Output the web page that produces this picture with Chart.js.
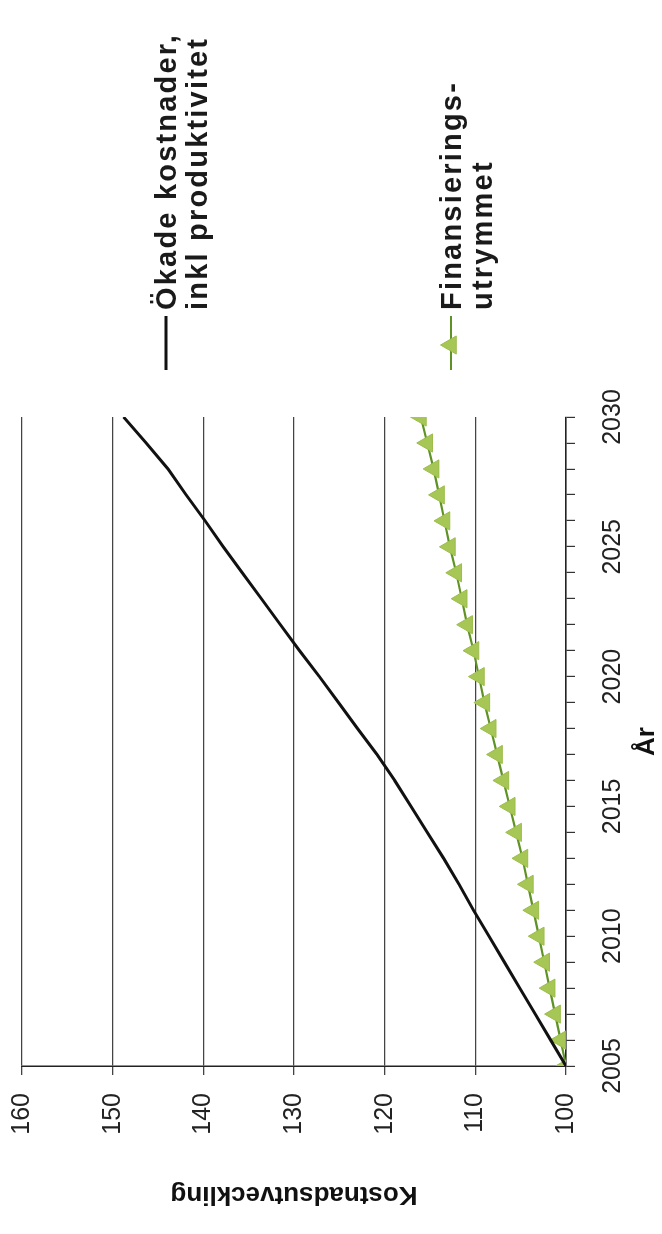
<!DOCTYPE html>
<html>
<head>
<meta charset="utf-8">
<script src="https://cdn.jsdelivr.net/npm/chart.js@4/dist/chart.umd.min.js"></script>
<style>
  html, body { margin: 0; padding: 0; background: #fff; overflow: hidden; }
  /* the chart is laid out landscape and turned a quarter turn counter-clockwise */
  #wrap {
    position: absolute; left: 0; top: 0;
    width: 1234px; height: 662px;
    transform-origin: 0 0;
    transform: translate(0, 1234px) rotate(-90deg);
  }
</style>
</head>
<body>
<div id="wrap"><canvas id="c" width="1234" height="662"></canvas></div>
<script>
// Years on the horizontal axis
const years = [2005, 2006, 2007, 2008, 2009, 2010, 2011, 2012, 2013, 2014, 2015, 2016, 2017,
               2018, 2019, 2020, 2021, 2022, 2023, 2024, 2025, 2026, 2027, 2028, 2029, 2030];

// Ökade kostnader, inkl produktivitet (index, 2005 = 100)
const okadeKostnader = [100.0, 101.7, 103.4, 105.1, 106.8, 108.5, 110.2, 111.8, 113.5, 115.3,
                        117.1, 118.9, 120.85, 123.0, 125.1, 127.2, 129.4, 131.5, 133.6, 135.7,
                        137.8, 139.8, 141.9, 143.9, 146.3, 148.8];

// Finansieringsutrymmet (index, 2005 = 100)
const finansieringsutrymmet = [100.0, 100.6, 101.2, 101.8, 102.4, 103.0, 103.6, 104.2, 104.8, 105.5,
                               106.2, 106.9, 107.6, 108.3, 109.0, 109.6, 110.2, 110.9, 111.5, 112.1,
                               112.8, 113.4, 114.0, 114.6, 115.3, 116.0];

// Labelled ticks
const yearLabels = [2005, 2010, 2015, 2020, 2025, 2030];
const valueTicks = [100, 110, 120, 130, 140, 150, 160];

// Series names (split over two lines in the legend)
const seriesNames = [
  ['Ökade kostnader,', 'inkl produktivitet'],
  ['Finansierings-', 'utrymmet']
];

const FONT = '"Liberation Sans", Arial, Helvetica, sans-serif';
const GREEN_LINE = '#5f9224';
const GREEN_FILL = '#a6c656';

// Legend drawn to the right of the plot, one entry per dataset
const sideLegend = {
  id: 'sideLegend',
  afterDraw(chart) {
    const ctx = chart.ctx;
    const area = chart.chartArea;
    const rows = [166, 451];
    const x0 = area.right + 47;
    chart.data.datasets.forEach((ds, i) => {
      const y = rows[i];
      ctx.save();
      ctx.strokeStyle = ds.borderColor;
      ctx.lineWidth = ds.borderWidth;
      ctx.beginPath();
      ctx.moveTo(x0, y);
      ctx.lineTo(x0 + 54, y);
      ctx.stroke();
      if (ds.pointStyle === 'triangle') {
        ctx.fillStyle = ds.pointBackgroundColor;
        ctx.strokeStyle = ds.pointBorderColor;
        ctx.lineWidth = 1;
        Chart.helpers.drawPoint(ctx, { pointStyle: 'triangle', radius: ds.pointRadius, borderWidth: 1, rotation: 0 }, x0 + 25, y);
      }
      ctx.fillStyle = '#1a1a1a';
      ctx.font = 'bold 29px ' + FONT;
      if ('letterSpacing' in ctx) ctx.letterSpacing = '2.2px';
      ctx.textBaseline = 'middle';
      ctx.textAlign = 'left';
      const lines = Array.isArray(ds.label) ? ds.label : [ds.label];
      lines.forEach((t, k) => ctx.fillText(t, x0 + 60, y + 2 + k * 31));
      ctx.restore();
    });
  }
};

new Chart(document.getElementById('c'), {
  type: 'line',
  data: {
    datasets: [
      {
        label: seriesNames[0],
        data: years.map((y, i) => ({ x: y, y: okadeKostnader[i] })),
        borderColor: '#111111',
        borderWidth: 3,
        pointRadius: 0,
        tension: 0,
        fill: false
      },
      {
        label: seriesNames[1],
        data: years.map((y, i) => ({ x: y, y: finansieringsutrymmet[i] })),
        borderColor: GREEN_LINE,
        borderWidth: 2.2,
        pointStyle: 'triangle',
        pointRadius: 10.5,
        pointBackgroundColor: GREEN_FILL,
        pointBorderColor: '#9cbd4c',
        pointBorderWidth: 1,
        tension: 0,
        fill: false
      }
    ]
  },
  options: {
    responsive: false,
    animation: false,
    devicePixelRatio: 1,
    layout: { padding: { left: 0, top: 22, right: 417, bottom: 0 } },
    plugins: { legend: { display: false }, tooltip: { enabled: false } },
    scales: {
      x: {
        type: 'linear',
        min: years[0],
        max: years[years.length - 1],
        afterFit(scale) { scale.height = 96; },
        afterBuildTicks(scale) { scale.ticks = years.map(v => ({ value: v })); },
        ticks: {
          autoSkip: false,
          maxRotation: 0,
          padding: 23,
          color: '#222',
          font: { family: FONT, size: 25 },
          callback: v => (yearLabels.includes(v) ? String(v) : '')
        },
        grid: { drawOnChartArea: false, drawTicks: true, tickLength: 9, color: '#333', lineWidth: 1.2 },
        border: { display: true, color: '#222', width: 1.5 },
        title: { display: true, text: 'År', color: '#111', font: { family: FONT, size: 26, weight: 'bold' }, padding: { top: 0, bottom: 0 } }
      },
      y: {
        min: valueTicks[0],
        max: valueTicks[valueTicks.length - 1],
        afterFit(scale) {
          scale.width = 168;
          // keep the plot edges where the layout padding puts them
          scale.paddingTop = 0;
          scale.paddingBottom = 0;
        },
        afterBuildTicks(scale) { scale.ticks = valueTicks.map(v => ({ value: v })); },
        ticks: {
          padding: 18,
          color: '#222',
          font: { family: FONT, size: 25 },
          callback: v => String(v)
        },
        grid: { color: '#444', lineWidth: 1.3, tickLength: 9, drawTicks: true },
        border: { display: true, color: '#222', width: 1.5 },
        title: { display: true, text: 'Kostnadsutveckling', color: '#111', font: { family: FONT, size: 26, weight: 'bold' }, padding: { top: 24, bottom: 0 } }
      }
    }
  },
  plugins: [sideLegend]
});
</script>
</body>
</html>
